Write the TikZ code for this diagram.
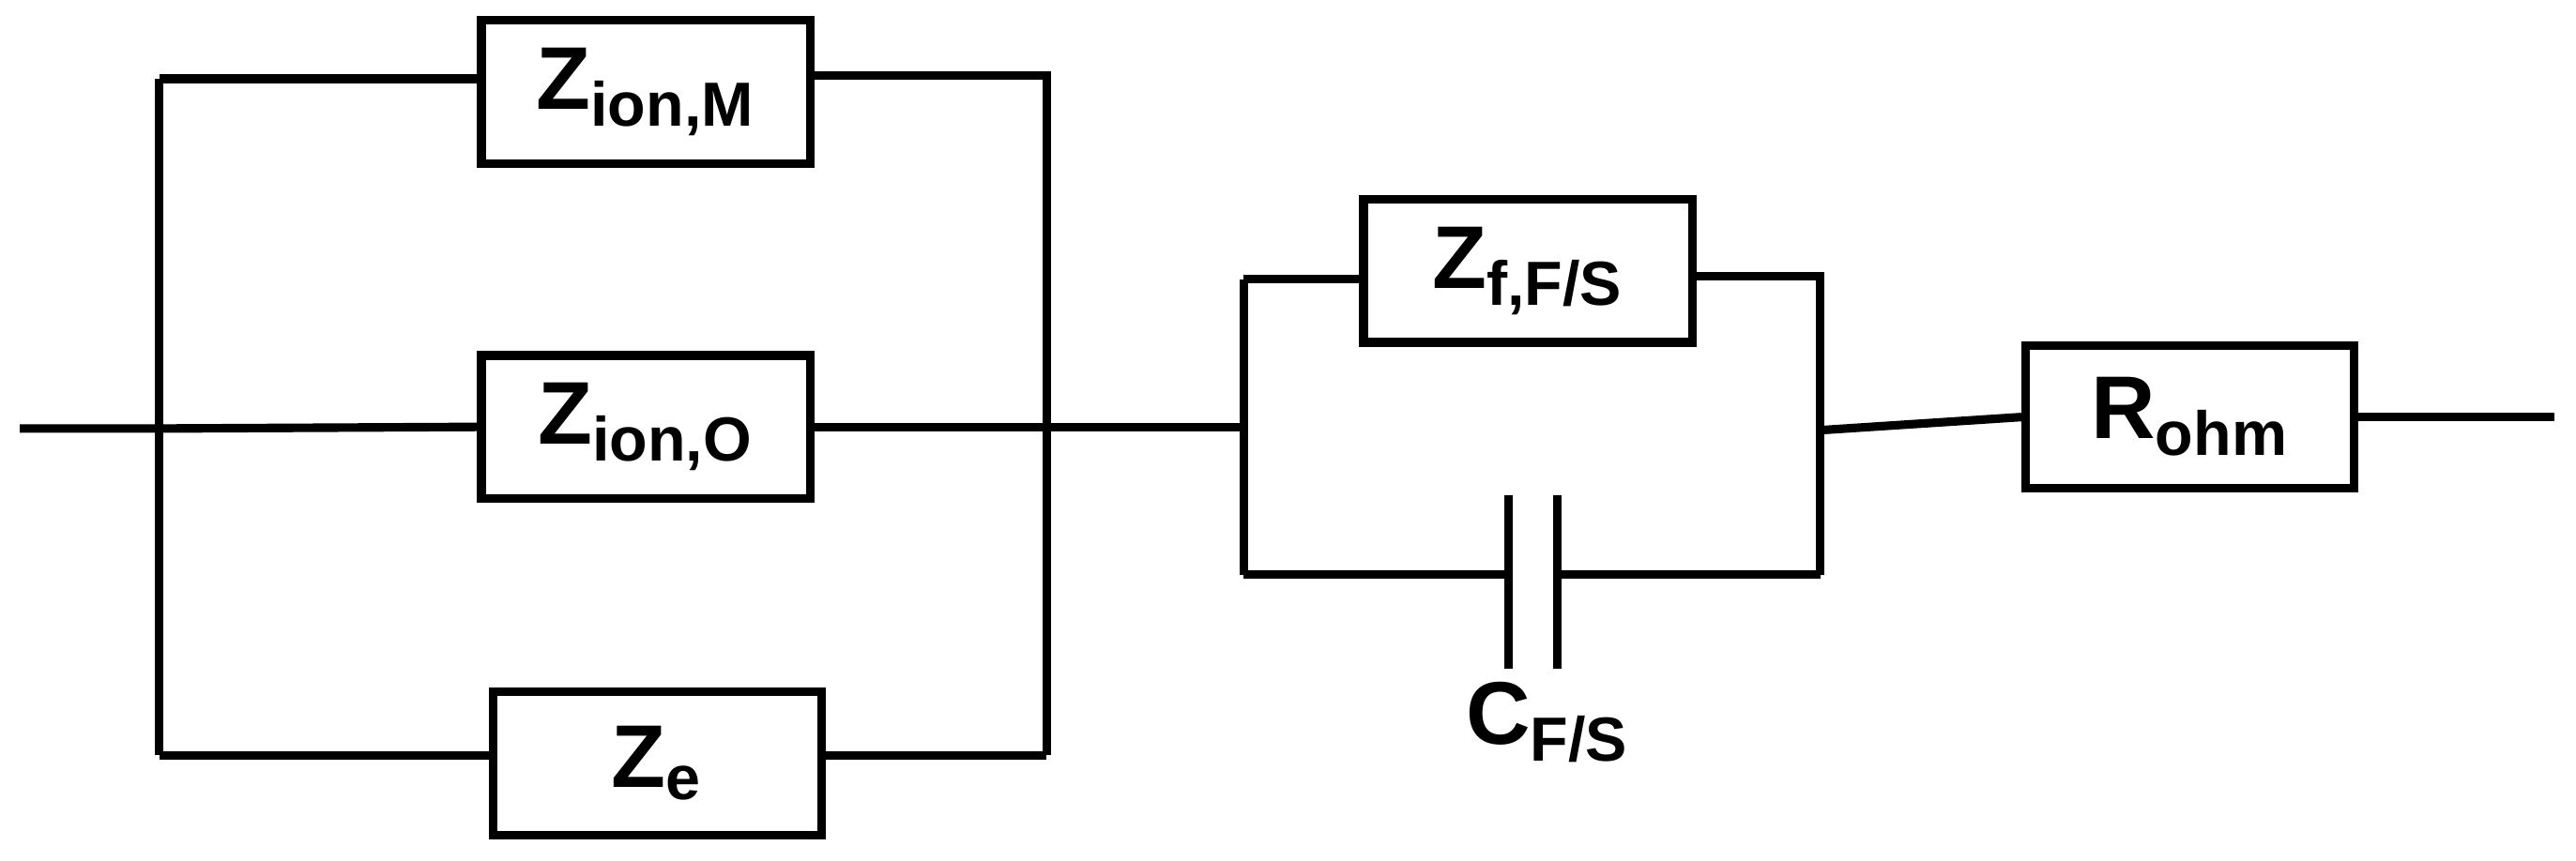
\documentclass[tikz,border=0pt]{standalone}
\usepackage{fontspec}
\setmainfont{Liberation Sans}
\begin{document}
\begin{tikzpicture}
[x=0.0175cm,y=-0.0175cm,line width=2.6pt,
 elem/.style={rectangle,draw=black,line width=2.6pt,minimum width=200*0.0175cm,
   minimum height=87*0.0175cm,inner sep=0pt,font=\fontsize{27}{30}\selectfont\bfseries},
 lbl/.style={font=\fontsize{27}{30}\selectfont\bfseries}]
\useasboundingbox (0,0) rectangle (1568,524);
% first parallel block
\node [elem] (zim) at (393,56) {Z\textsubscript{ion,M}};
\node [elem] (zio) at (393,260) {Z\textsubscript{ion,O}};
\node [elem] (ze) at (400,465) {Z\textsubscript{e}};
\coordinate (in) at (12,261);
\coordinate (lt) at (97,48);
\coordinate (lm) at (97,261);
\coordinate (lb) at (97,460);
\coordinate (rt) at (637,46);
\coordinate (rm) at (637,260);
\coordinate (rb) at (637,460);
\draw (in) -- (lm) -- (zio.west);
\draw (zio.east) -- (rm);
\draw (lt) -- (lb);
\draw (lt) -- (zim.west |- lt);
\draw (zim.east |- rt) -- (rt) -- (rb);
\draw (lb) -- (ze.west |- lb);
\draw (ze.east |- rb) -- (rb);
% second parallel block
\node [elem] (zf) at (930,165) {Z\textsubscript{f,F/S}};
\coordinate (m2l) at (757,260);
\coordinate (m2t) at (757,170);
\coordinate (m2b) at (757,350);
\coordinate (m3t) at (1108,168);
\coordinate (m3m) at (1108,262);
\coordinate (m3b) at (1108,350);
\coordinate (cl) at (918,350);
\coordinate (cr) at (948,350);
\draw (rm) -- (m2l);
\draw (m2t) -- (m2b);
\draw (m2t) -- (zf.west |- m2t);
\draw (zf.east |- m3t) -- (m3t) -- (m3b);
\draw (m2b) -- (cl);
\draw (cr) -- (m3b);
\draw ([yshift=-1cm]cl) -- ([yshift=0.85cm]cl);
\draw ([yshift=-1cm]cr) -- ([yshift=0.85cm]cr);
\node [lbl] (cfs) at (942,440) {C\textsubscript{F/S}};
% series resistor
\node [elem] (rohm) at (1333,254) {R\textsubscript{ohm}};
\coordinate (out) at (1555,254);
\draw (m3m) -- (rohm.west);
\draw (rohm.east) -- (out);
\end{tikzpicture}
\end{document}
